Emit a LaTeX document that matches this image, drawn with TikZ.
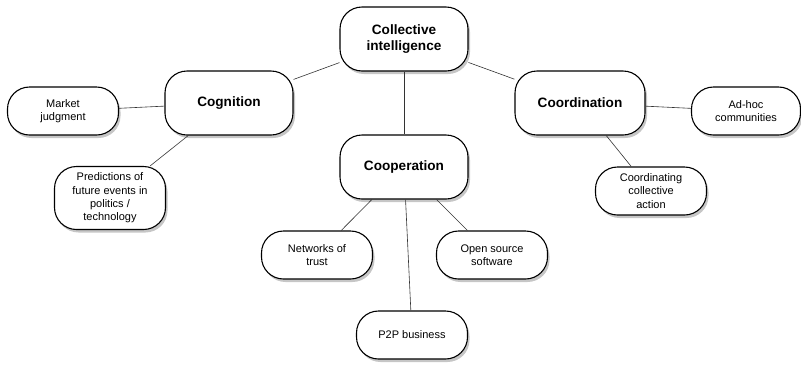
\documentclass[tikz,border=0pt]{standalone}
\usepackage{fontspec}
\setmainfont{Liberation Sans}
\usetikzlibrary{shadows}

\begin{document}
\begin{tikzpicture}[
		x=1pt, y=-1pt,
		bubble/.style={draw, line width=1.1pt, fill=white, rounded corners=22pt, align=center,
			drop shadow={shadow xshift=2pt, shadow yshift=-3pt, opacity=0.45}},
		mainb/.style={bubble, minimum width=128pt, minimum height=64pt,
			font=\fontsize{13.6}{16}\selectfont\bfseries},
		leafb/.style={bubble, minimum width=111pt, minimum height=48pt,
			font=\fontsize{11}{13.3}\selectfont},
		link/.style={semithick, black!80}]
	\useasboundingbox (0,0) rectangle (801,365);
	%% define concepts
	\node (ci) at (404,39) [mainb] {Collective\\intelligence};
	\node (cog) at (229,103) [mainb] {Cognition};
	\node (coo) at (404,167) [mainb] {Cooperation};
	\node (cor) at (580,103) [mainb, minimum width=130pt] {Coordination};
	%% define examples
	\node (mkt) at (63,111) [leafb] {Market\\judgment};
	\node (pred) at (110,198) [leafb, minimum height=63pt] {Predictions of\\future events in\\politics /\\technology};
	\node (trust) at (317,255) [leafb] {Networks of\\trust};
	\node (oss) at (492,255) [leafb] {Open source\\software};
	\node (p2p) at (412,335) [leafb] {P2P business};
	\node (adhoc) at (746,111) [leafb, minimum width=109pt] {Ad-hoc\\communities};
	\node (act) at (651,191) [leafb] {Coordinating\\collective\\action};
	%% define links
	\draw[link] (ci) -- (cog);
	\draw[link] (ci) -- (coo);
	\draw[link] (ci) -- (cor);
	\draw[link] (cog) -- (mkt);
	\draw[link] (cog) -- (pred);
	\draw[link] (coo) -- (trust);
	\draw[link] (coo) -- (oss);
	\draw[link] (coo) -- (p2p);
	\draw[link] (cor) -- (adhoc);
	\draw[link] (cor) -- (act);
\end{tikzpicture}
\end{document}
